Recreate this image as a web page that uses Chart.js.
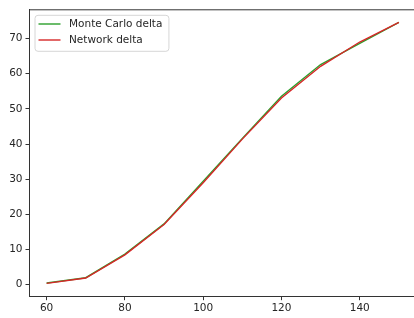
<!DOCTYPE html>
<html>
<head>
<meta charset="utf-8">
<script src="https://cdn.jsdelivr.net/npm/chart.js@4"></script>
<style>
  html, body { margin: 0; padding: 0; background: #fff; overflow: hidden; }
  #wrap { width: 417px; height: 318px; }
</style>
</head>
<body>
<div id="wrap"><canvas id="myChart" width="417" height="318"></canvas></div>
<script>
// data
const xValues = [60, 70, 80, 90, 100, 110, 120, 130, 140, 150];
const monteCarloDelta = [0.5, 2.0, 8.7, 17.3, 29.4, 41.6, 53.6, 62.6, 68.6, 74.6];
const networkDelta = [0.4, 1.9, 8.5, 17.1, 29.0, 41.4, 53.1, 62.1, 69.0, 74.6];
const xTicks = [60, 80, 100, 120, 140];
const yTicks = [0, 10, 20, 30, 40, 50, 60, 70];

const FONT = "'DejaVu Sans', sans-serif";
const TEXT = "#262626";
const SPINE = "#333";

// top + right spines (matplotlib box)
const boxPlugin = {
  id: "box",
  afterDraw(chart) {
    const { ctx, chartArea: a } = chart;
    ctx.save();
    ctx.strokeStyle = SPINE;
    ctx.lineWidth = 1;
    ctx.beginPath();
    ctx.moveTo(a.left, a.top + 0.5);
    ctx.lineTo(a.right, a.top + 0.5);
    ctx.lineTo(a.right, a.bottom);
    ctx.stroke();
    ctx.restore();
  }
};

// legend drawn like matplotlib's upper-left legend
const legendPlugin = {
  id: "mplLegend",
  afterDraw(chart) {
    const { ctx, chartArea: a } = chart;
    const sets = chart.data.datasets;
    ctx.save();
    ctx.font = "10.5px " + FONT;
    let textW = 0;
    sets.forEach(ds => { textW = Math.max(textW, ctx.measureText(ds.label).width); });
    const x0 = a.left + 6, y0 = a.top + 6;
    const w = 4 + 22 + 8.5 + textW + 6;
    const h = 36;
    const r = 3;
    ctx.beginPath();
    ctx.moveTo(x0 + r, y0);
    ctx.arcTo(x0 + w, y0, x0 + w, y0 + h, r);
    ctx.arcTo(x0 + w, y0 + h, x0, y0 + h, r);
    ctx.arcTo(x0, y0 + h, x0, y0, r);
    ctx.arcTo(x0, y0, x0 + w, y0, r);
    ctx.closePath();
    ctx.fillStyle = "rgba(255,255,255,0.8)";
    ctx.fill();
    ctx.strokeStyle = "#d6d6d6";
    ctx.lineWidth = 1;
    ctx.stroke();
    sets.forEach((ds, i) => {
      const cy = y0 + 8.7 + i * 16;
      ctx.strokeStyle = ds.borderColor;
      ctx.lineWidth = 1.4;
      ctx.beginPath();
      ctx.moveTo(x0 + 3.5, cy);
      ctx.lineTo(x0 + 25.5, cy);
      ctx.stroke();
      ctx.fillStyle = TEXT;
      ctx.textBaseline = "middle";
      ctx.fillText(ds.label, x0 + 34, cy);
    });
    ctx.restore();
  }
};

const ctx = document.getElementById("myChart");

new Chart(ctx, {
  type: "line",
  data: {
    labels: xValues,
    datasets: [
      {
        label: "Monte Carlo delta",
        data: xValues.map((x, i) => ({ x: x, y: monteCarloDelta[i] })),
        borderColor: "#2ca02c",
        borderWidth: 1.4,
        pointRadius: 0,
        tension: 0,
        order: 1
      },
      {
        label: "Network delta",
        data: xValues.map((x, i) => ({ x: x, y: networkDelta[i] })),
        borderColor: "#d62728",
        borderWidth: 1.4,
        pointRadius: 0,
        tension: 0,
        order: 0
      }
    ]
  },
  options: {
    responsive: false,
    animation: false,
    devicePixelRatio: 1,
    layout: { padding: { top: 8, left: 0, right: 0.5, bottom: 0 } },
    plugins: { legend: { display: false }, tooltip: { enabled: false } },
    scales: {
      x: {
        type: "linear",
        min: 55.5,
        max: 154.5,
        afterBuildTicks: (scale) => { scale.ticks = xTicks.map(v => ({ value: v })); },
        afterFit: (scale) => { scale.height = 21.3; },
        grid: { drawOnChartArea: false, color: SPINE, tickLength: 3.5 },
        border: { color: SPINE, width: 1 },
        ticks: { color: TEXT, font: { family: FONT, size: 10.5 }, padding: 2, maxRotation: 0 }
      },
      y: {
        min: -3.4,
        max: 78.3,
        afterBuildTicks: (scale) => { scale.ticks = yTicks.map(v => ({ value: v })); },
        afterFit: (scale) => { scale.width = 29; },
        grid: { drawOnChartArea: false, color: SPINE, tickLength: 3.5 },
        border: { color: SPINE, width: 1 },
        ticks: { color: TEXT, font: { family: FONT, size: 10.5 }, padding: 3 }
      }
    }
  },
  plugins: [boxPlugin, legendPlugin]
});
</script>
</body>
</html>
